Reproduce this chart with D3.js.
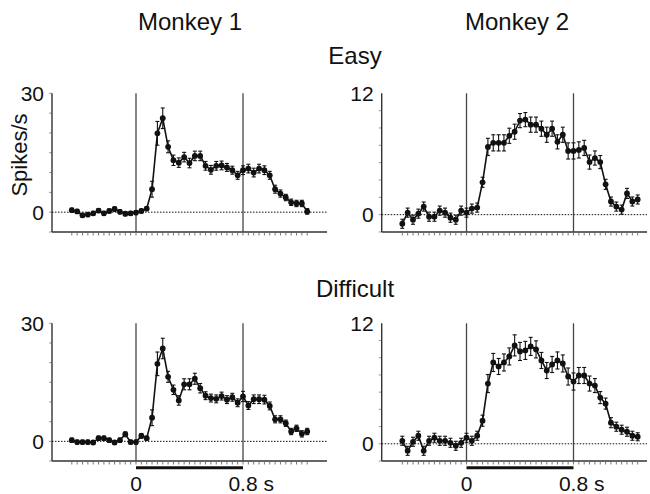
<!DOCTYPE html>
<html>
<head>
<meta charset="utf-8">
<script src="https://cdn.jsdelivr.net/npm/d3@7"></script>
<style>
  body { margin: 0; background: #fff; }
  text { font-family: "Liberation Sans", Arial, Helvetica, sans-serif; fill: #111; }
</style>
</head>
<body>
<svg id="chart" width="650" height="494"></svg>
<script>
// Time bins (s, relative to stimulus onset): 40 ms bins from -0.48 s
const binStart = -0.48;
const binWidth = 0.04;
const binCount = 45;

// Mean firing rate (spikes/s) per bin and its SEM
const m1Easy = [0.5, 0.2, -0.8, -0.6, -0.3, 0.4, -0.3, 0.3, 0.8, 0.1, -0.4, -0.3, -0.1, 0.3, 0.9,
  5.8, 19.9, 23.7, 16.5, 13.1, 12.5, 13.9, 12.4, 14.2, 14.2, 11.7, 10.7, 11.7, 11.8, 11.3,
  10.6, 9.3, 10.6, 11.0, 10.0, 11.0, 10.6, 9.3, 5.8, 4.7, 3.7, 2.5, 2.2, 2.2, 0.2];
const m1EasyErr = [0.5, 0.5, 0.5, 0.5, 0.5, 0.5, 0.5, 0.5, 0.5, 0.5, 0.5, 0.5, 0.5, 0.5, 0.5,
  2.0, 3.0, 2.6, 1.5, 1.3, 1.2, 1.2, 1.2, 1.2, 1.2, 1.1, 1.1, 1.1, 1.1, 1.0,
  1.0, 1.0, 1.1, 1.1, 1.1, 1.1, 1.1, 1.0, 1.0, 0.9, 0.8, 0.8, 0.8, 0.8, 0.7];

const m2Easy = [-0.9, 0.2, -0.5, 0.1, 0.8, -0.2, -0.2, 0.4, 0.2, -0.3, -0.5, 0.4, 0.2, 0.6, 0.7,
  3.2, 6.7, 7.1, 7.1, 7.1, 7.8, 8.2, 9.3, 9.4, 8.9, 8.9, 8.5, 7.9, 8.5, 7.2,
  7.9, 6.3, 6.3, 6.4, 6.6, 5.2, 5.6, 5.2, 3.0, 1.3, 0.8, 0.5, 2.1, 1.3, 1.5];
const m2EasyErr = [0.45, 0.45, 0.45, 0.45, 0.45, 0.45, 0.45, 0.45, 0.45, 0.45, 0.45, 0.45, 0.45, 0.45, 0.45,
  0.5, 0.85, 0.8, 0.8, 0.8, 0.75, 0.75, 0.7, 0.7, 0.75, 0.75, 0.75, 0.75, 0.75, 0.7,
  0.75, 0.8, 0.8, 0.8, 0.75, 0.7, 0.7, 0.65, 0.5, 0.45, 0.45, 0.45, 0.5, 0.45, 0.45];

const m1Difficult = [0.3, -0.2, -0.2, -0.2, -0.3, 0.8, 0.8, 0.3, -0.3, 0.3, 1.8, -0.2, -0.2, 1.4, 0.8,
  6.0, 19.7, 23.6, 16.4, 13.1, 10.4, 14.5, 14.5, 15.9, 13.5, 11.6, 11.0, 10.8, 11.5, 10.6,
  11.2, 9.8, 11.4, 9.1, 10.7, 10.7, 10.6, 9.0, 5.6, 5.6, 4.6, 2.5, 3.3, 1.9, 2.5];
const m1DifficultErr = [0.5, 0.5, 0.5, 0.5, 0.5, 0.5, 0.5, 0.5, 0.5, 0.5, 0.6, 0.5, 0.5, 0.6, 0.5,
  2.0, 3.0, 2.6, 1.4, 1.2, 1.2, 1.4, 1.4, 1.4, 1.2, 1.0, 1.0, 1.0, 1.0, 1.0,
  1.0, 1.0, 1.3, 1.0, 1.1, 1.1, 1.1, 1.0, 0.9, 0.9, 0.8, 0.8, 0.8, 0.8, 0.8];

const m2Difficult = [0.3, -0.7, 0.2, 0.8, -0.7, 0.3, 0.6, 0.3, 0.3, 0.1, -0.2, 0.1, 0.6, 0.3, 0.8,
  2.3, 6.0, 8.1, 7.7, 8.1, 8.7, 9.8, 9.2, 9.3, 9.7, 9.4, 8.3, 7.3, 7.9, 8.3,
  8.0, 6.7, 6.2, 6.8, 6.8, 6.0, 5.8, 4.6, 4.0, 2.1, 1.7, 1.4, 1.2, 0.8, 0.7];
const m2DifficultErr = [0.45, 0.45, 0.45, 0.45, 0.45, 0.45, 0.45, 0.45, 0.45, 0.45, 0.45, 0.45, 0.45, 0.45, 0.45,
  0.55, 0.9, 0.9, 0.8, 0.85, 0.85, 1.05, 0.9, 0.9, 0.9, 0.85, 0.8, 0.8, 0.8, 0.85,
  0.85, 0.85, 0.85, 0.8, 0.8, 0.75, 0.7, 0.6, 0.55, 0.5, 0.45, 0.45, 0.45, 0.45, 0.4];

const columnTitles = ["Monkey 1", "Monkey 2"];
const rowTitles = ["Easy", "Difficult"];
const yTickLabels = [[0, 30], [0, 12]];   // per monkey
const yMinorSteps = [5, 12 / 7];          // minor tick spacing per monkey
const yMin = [-5, -12 / 7];
const epochMarks = [0, 0.8];              // stimulus on / off (s)
const epochLabels = ["0", "0.8"];
const epochUnit = " s";

const panels = [
  { col: 0, row: 0, values: m1Easy, errors: m1EasyErr },
  { col: 1, row: 0, values: m2Easy, errors: m2EasyErr },
  { col: 0, row: 1, values: m1Difficult, errors: m1DifficultErr },
  { col: 1, row: 1, values: m2Difficult, errors: m2DifficultErr }
];

const times = d3.range(binCount).map(i => +(binStart + i * binWidth).toFixed(2));

// Layout (pixels)
const colGeom = [
  { axisX: 52, axisEnd: 327, x0: 136, x08: 243, titleX: 190 },
  { axisX: 381.7, axisEnd: 647, x0: 466.5, x08: 573.5, titleX: 517 }
];
const rowGeom = [
  { top: 93.3, bottom: 232 },
  { top: 323.3, bottom: 461 }
];

const svg = d3.select("#chart");
const ink = "#111";

panels.forEach(p => {
  const cg = colGeom[p.col], rg = rowGeom[p.row];
  const yMax = yTickLabels[p.col][1];
  const x = d3.scaleLinear().domain([0, 0.8]).range([cg.x0, cg.x08]);
  const y = d3.scaleLinear().domain([yMin[p.col], yMax]).range([rg.bottom, rg.top]);
  const g = svg.append("g");

  // minor ticks on the y axis
  const minor = d3.range(0, 8).map(k => yMin[p.col] + k * yMinorSteps[p.col]).filter(v => v <= yMax + 1e-6);
  g.selectAll(".ymin").data(minor).join("line")
    .attr("x1", cg.axisX - 3).attr("x2", cg.axisX)
    .attr("y1", d => y(d)).attr("y2", d => y(d))
    .attr("stroke", "#999").attr("stroke-width", 1);

  // bin ticks under the time axis
  g.selectAll(".xmin").data(times).join("line")
    .attr("x1", d => x(d)).attr("x2", d => x(d))
    .attr("y1", rg.bottom + 1).attr("y2", rg.bottom + 3.5)
    .attr("stroke", "#777").attr("stroke-width", 1);

  // axes
  g.append("line").attr("x1", cg.axisX).attr("x2", cg.axisX)
    .attr("y1", rg.top).attr("y2", rg.bottom)
    .attr("stroke", "#333").attr("stroke-width", 1.4);
  g.append("line").attr("x1", cg.axisX).attr("x2", cg.axisEnd)
    .attr("y1", rg.bottom).attr("y2", rg.bottom)
    .attr("stroke", "#333").attr("stroke-width", 1.4);

  // y tick labels
  g.selectAll(".ylab").data(yTickLabels[p.col]).join("text")
    .attr("x", cg.axisX - 8).attr("y", d => y(d))
    .attr("dy", "0.36em")
    .attr("text-anchor", "end")
    .attr("font-size", 21)
    .text(d => d);

  // zero line
  g.append("line").attr("x1", cg.axisX).attr("x2", cg.axisEnd)
    .attr("y1", y(0)).attr("y2", y(0))
    .attr("stroke", ink).attr("stroke-width", 1)
    .attr("stroke-dasharray", "1.5,1.5");

  // stimulus on/off markers
  g.selectAll(".epoch").data(epochMarks).join("line")
    .attr("x1", d => x(d)).attr("x2", d => x(d))
    .attr("y1", rg.top).attr("y2", rg.bottom)
    .attr("stroke", "#444").attr("stroke-width", 1.3);

  const pts = times.map((t, i) => ({ t, v: p.values[i], e: p.errors[i] }));

  // error bars
  const eb = g.selectAll(".eb").data(pts).join("g");
  eb.append("line")
    .attr("x1", d => x(d.t)).attr("x2", d => x(d.t))
    .attr("y1", d => y(d.v - d.e)).attr("y2", d => y(d.v + d.e))
    .attr("stroke", ink).attr("stroke-width", 1.1);
  [-1, 1].forEach(s => {
    eb.append("line")
      .attr("x1", d => x(d.t) - 2).attr("x2", d => x(d.t) + 2)
      .attr("y1", d => y(d.v + s * d.e)).attr("y2", d => y(d.v + s * d.e))
      .attr("stroke", ink).attr("stroke-width", 1.1);
  });

  // mean trace
  g.append("path").datum(pts)
    .attr("fill", "none").attr("stroke", ink).attr("stroke-width", 1.6)
    .attr("d", d3.line().x(d => x(d.t)).y(d => y(d.v)));

  g.selectAll(".pt").data(pts).join("circle")
    .attr("cx", d => x(d.t)).attr("cy", d => y(d.v))
    .attr("r", 2.9).attr("fill", ink);

  // stimulus bar and time labels under the bottom row
  if (p.row === 1) {
    g.append("line")
      .attr("x1", x(epochMarks[0])).attr("x2", x(epochMarks[1]))
      .attr("y1", rg.bottom + 6.8).attr("y2", rg.bottom + 6.8)
      .attr("stroke", ink).attr("stroke-width", 3);
    g.append("text").attr("x", x(epochMarks[0])).attr("y", 491)
      .attr("text-anchor", "middle").attr("font-size", 21).text(epochLabels[0]);
    const lab = g.append("text").attr("y", 491).attr("font-size", 21);
    lab.text(epochLabels[1]);
    const w = lab.node().getComputedTextLength();
    lab.attr("x", x(epochMarks[1]) - w / 2).text(epochLabels[1] + epochUnit);
  }
});

// column and row titles
svg.selectAll(".ctitle").data(columnTitles).join("text")
  .attr("x", (d, i) => colGeom[i].titleX).attr("y", 30)
  .attr("text-anchor", "middle").attr("font-size", 24).text(d => d);
svg.selectAll(".rtitle").data(rowTitles).join("text")
  .attr("x", 355).attr("y", (d, i) => [64, 297][i])
  .attr("text-anchor", "middle").attr("font-size", 24).text(d => d);

// y-axis unit
svg.append("text")
  .attr("transform", "translate(27,155) rotate(-90)")
  .attr("text-anchor", "middle").attr("font-size", 22)
  .text("Spikes/s");
</script>
</body>
</html>
